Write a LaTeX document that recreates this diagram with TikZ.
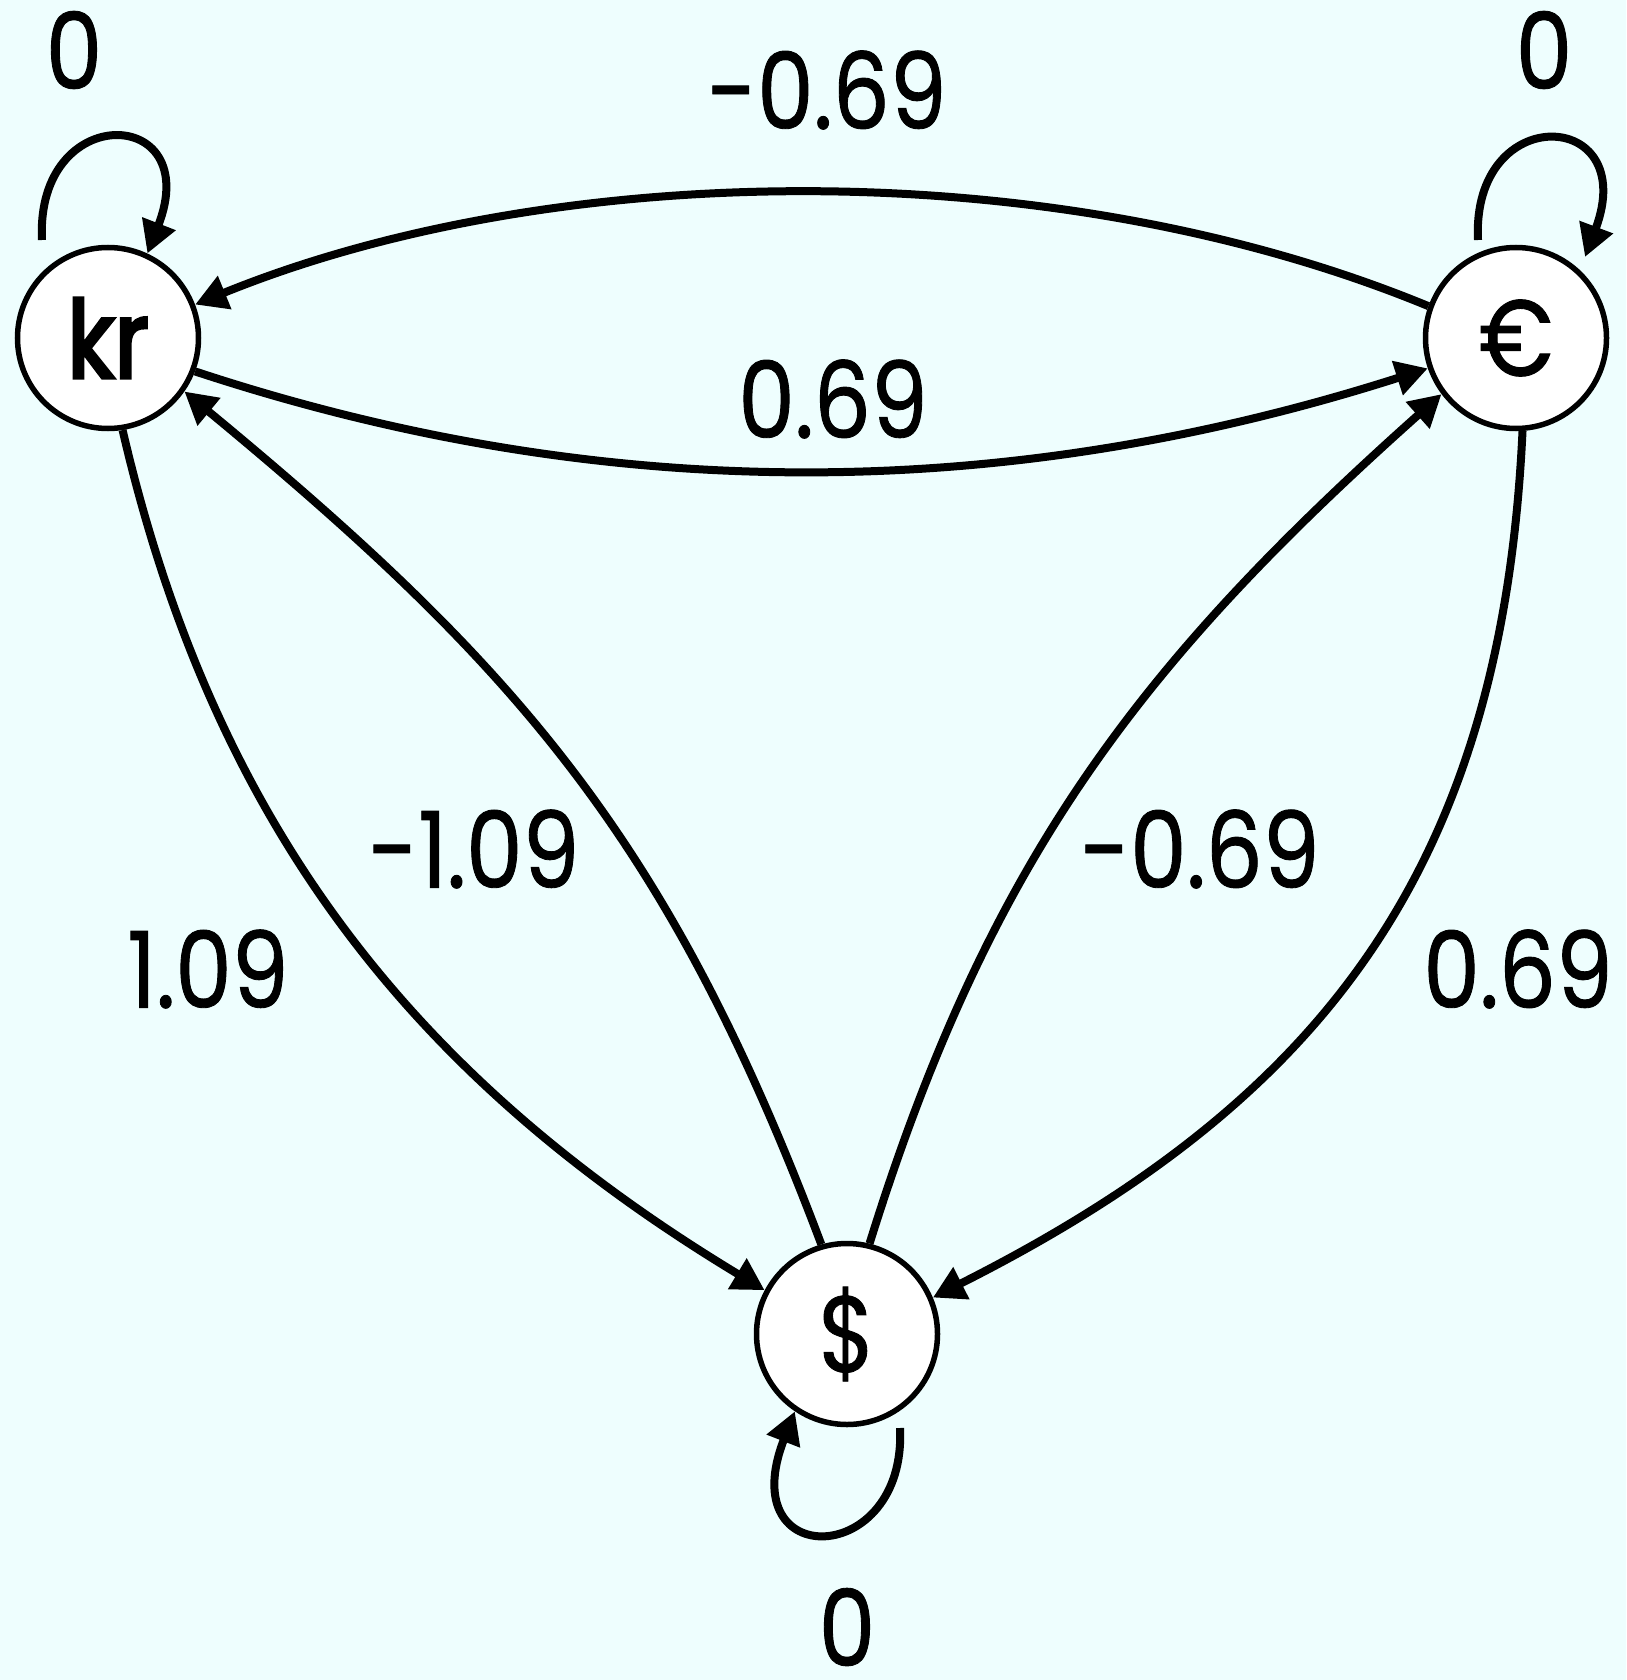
\documentclass[tikz,border=0pt]{standalone}
\usepackage{fontspec}
\setmainfont[FakeStretch=0.85,FakeBold=0.8]{Poppins}
\newfontfamily\krfont[FakeStretch=0.85,FakeBold=3]{Poppins}
\usetikzlibrary{arrows.meta}
\definecolor{bgc}{RGB}{238,254,254}
\tikzset{
  cur/.style={circle,draw=black,fill=white,line width=5.5pt,minimum size=181pt,inner sep=0pt,font=\fontsize{108}{120}\selectfont},
  lbl/.style={inner sep=0pt,font=\fontsize{106}{120}\selectfont},
  conn/.style={line width=8pt,-{Triangle[length=32pt,width=34pt]}}
}
\begin{document}
\begin{tikzpicture}[x=1pt,y=-1pt]
\fill[bgc] (0,0) rectangle (1626,1680);
\useasboundingbox (0,0) rectangle (1626,1680);
\node[cur] (kr) at (108,338) {\krfont kr};
\node[cur] (eu) at (1516,338) {€};
\node[cur] (us) at (847,1334) {\$};
\coordinate (krl) at (42,240);
\coordinate (eul) at (1478,240);
\coordinate (eut) at (1585,257);
\coordinate (usl) at (900,1428);
% loops
\draw[conn] (krl) .. controls (35,100) and (205,105) .. (kr.65);
\draw[conn] (eul) .. controls (1471,100) and (1641,108) .. (eut);
\draw[conn] (usl) .. controls (907,1568) and (732,1573) .. (us.236);
% edges
\draw[conn] (eu.160) .. controls (1050,150) and (550,160) .. (kr.21);
\draw[conn] (kr.-21) .. controls (600,505) and (1000,505) .. (eu.199);
\draw[conn] (kr.-81) .. controls (215,828) and (415,1079) .. (us.152);
\draw[conn] (us.106) .. controls (669,840) and (518,667) .. (kr.-35);
\draw[conn] (us.76) .. controls (989,860) and (1140,663) .. (eu.217);
\draw[conn] (eu.-86) .. controls (1502,868) and (1323,1101) .. (us.23);
% labels
\node[lbl] (l1) at (74,50) {0};
\node[lbl] (l2) at (1544,50) {0};
\node[lbl] (l3) at (847,1627) {0};
\node[lbl] (l4) at (827,90) {-0.69};
\node[lbl] (l5) at (833,399) {0.69};
\node[lbl] (l6) at (474,849) {-1.09};
\node[lbl] (l7) at (208,969) {1.09};
\node[lbl] (l8) at (1200,849) {-0.69};
\node[lbl] (l9) at (1518,969) {0.69};
\end{tikzpicture}
\end{document}
